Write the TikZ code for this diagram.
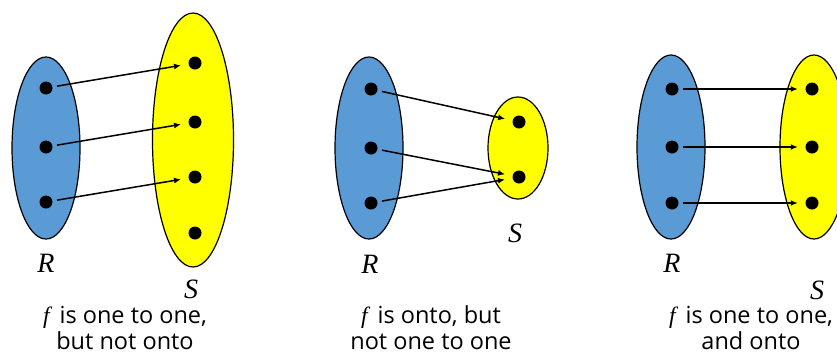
\documentclass[tikz,border=0pt]{standalone}
\usepackage{fontspec}
\setmainfont{Open Sans}
\newfontfamily\setfont{Liberation Serif}
\usepackage{xcolor}
\usetikzlibrary{arrows.meta, positioning, shapes.geometric}

\definecolor{setblue}{RGB}{91,155,213}
\definecolor{setyellow}{RGB}{255,255,0}

\begin{document}
\begin{tikzpicture}[
  x=1pt, y=-1pt,
  domset/.style={
    ellipse, draw, fill=setblue,
    inner sep=0pt, line width=1.2pt
  },
  codset/.style={
    ellipse, draw, fill=setyellow,
    inner sep=0pt, line width=1.2pt
  },
  elem/.style={circle, fill=black, inner sep=0pt, minimum size=13pt},
  setname/.style={font=\fontsize{28}{28}\selectfont\setfont\itshape},
  caption/.style={align=center, font=\fontsize{23.5}{26}\selectfont},
  map/.style={draw, -{Latex[length=7pt,width=6pt]}, line width=1.5pt,
    shorten <=4.5pt, shorten >=7.5pt}
]
  \useasboundingbox (0,0) rectangle (837,354);

  % one to one, not onto
  \node [domset, minimum width=68pt, minimum height=182pt] (dom1) at (46,148) {};
  \node [codset, minimum width=81pt, minimum height=254pt] (cod1) at (193,140) {};
  \node [elem] (r11) at (46,88) {};
  \node [elem] (r12) at (46,147) {};
  \node [elem] (r13) at (46,202) {};
  \node [elem] (s11) at (195,63) {};
  \node [elem] (s12) at (195,122) {};
  \node [elem] (s13) at (195,177) {};
  \node [elem] (s14) at (195,233) {};
  \node [setname] (lr1) at (46,263) {R};
  \node [setname] (ls1) at (191,289) {S};
  \node [caption] (cap1) at (125,328) {{\setfont\itshape f}\, is one to one,\\ but not onto};

  \path [map] (r11) -- (s11);
  \path [map] (r12) -- (s12);
  \path [map] (r13) -- (s13);

  % onto, not one to one
  \node [domset, minimum width=68pt, minimum height=182pt] (dom2) at (369,148) {};
  \node [codset, minimum width=60pt, minimum height=102pt] (cod2) at (518,148) {};
  \node [elem] (r21) at (371,89) {};
  \node [elem] (r22) at (371,148) {};
  \node [elem] (r23) at (371,203) {};
  \node [elem] (s21) at (519,122) {};
  \node [elem] (s22) at (519,177) {};
  \node [setname] (lr2) at (370,264) {R};
  \node [setname] (ls2) at (515,233) {S};
  \node [caption] (cap2) at (431,328) {{\setfont\itshape f}\, is onto, but\\ not one to one};

  \path [map] (r21) -- (s21);
  \path [map] (r22) -- (s22);
  \path [map] (r23) -- (s22);

  % one to one and onto
  \node [domset, minimum width=68pt, minimum height=184pt] (dom3) at (671,147) {};
  \node [codset, minimum width=68pt, minimum height=184pt] (cod3) at (814,147) {};
  \node [elem] (r31) at (672,89) {};
  \node [elem] (r32) at (672,147) {};
  \node [elem] (r33) at (672,203) {};
  \node [elem] (s31) at (812,89) {};
  \node [elem] (s32) at (812,147) {};
  \node [elem] (s33) at (812,203) {};
  \node [setname] (lr3) at (672,263) {R};
  \node [setname] (ls3) at (817,290) {S};
  \node [caption] (cap3) at (751,328) {{\setfont\itshape f}\, is one to one,\\ and onto};

  \path [map] (r31) -- (s31);
  \path [map] (r32) -- (s32);
  \path [map] (r33) -- (s33);

\end{tikzpicture}
\end{document}
